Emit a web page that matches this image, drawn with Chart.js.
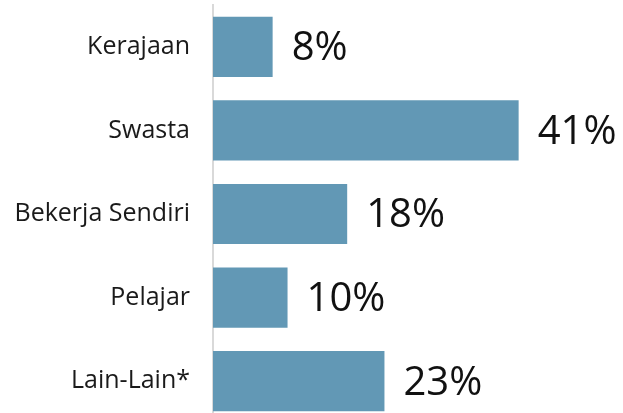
<!DOCTYPE html>
<html>
<head>
<meta charset="utf-8">
<script src="https://cdn.jsdelivr.net/npm/chart.js@4"></script>
<style>
  html, body { margin: 0; padding: 0; background: #fff; overflow: hidden; }
  canvas { display: block; }
</style>
</head>
<body>
<canvas id="chart" width="623" height="423"></canvas>
<script>
const categories = ['Kerajaan', 'Swasta', 'Bekerja Sendiri', 'Pelajar', 'Lain-Lain*'];
const percentages = [8, 41, 18, 10, 23];

// label besar di hujung setiap bar
const valueLabels = {
  id: 'valueLabels',
  afterDatasetsDraw(chart) {
    const ctx = chart.ctx;
    const meta = chart.getDatasetMeta(0);
    ctx.save();
    ctx.font = '40px "Open Sans", sans-serif';
    ctx.fillStyle = '#111111';
    ctx.textAlign = 'left';
    ctx.textBaseline = 'middle';
    meta.data.forEach(function(bar, i) {
      ctx.fillText(percentages[i] + '%', bar.x + 19, bar.y + 2);
    });
    ctx.restore();
  }
};

const ctx = document.getElementById('chart').getContext('2d');
new Chart(ctx, {
  type: 'bar',
  data: {
    labels: categories,
    datasets: [{
      data: percentages,
      backgroundColor: '#6298b5',
      barPercentage: 0.72,
      categoryPercentage: 1.0
    }]
  },
  options: {
    indexAxis: 'y',
    responsive: false,
    animation: false,
    layout: { padding: { top: 5, right: 0, bottom: 0, left: 0 } },
    plugins: {
      legend: { display: false },
      tooltip: { enabled: false }
    },
    scales: {
      x: {
        display: false,
        min: 0,
        max: 55
      },
      y: {
        grid: { display: false },
        border: { display: true, color: '#d9d9d9', width: 2 },
        ticks: {
          color: '#1a1a1a',
          padding: 15,
          font: { family: '"Open Sans", sans-serif', size: 25 }
        },
        afterFit(scale) {
          scale.width = 213;
          scale.paddingTop = 0;
          scale.paddingBottom = 0;
        }
      }
    }
  },
  plugins: [valueLabels]
});
</script>
</body>
</html>
